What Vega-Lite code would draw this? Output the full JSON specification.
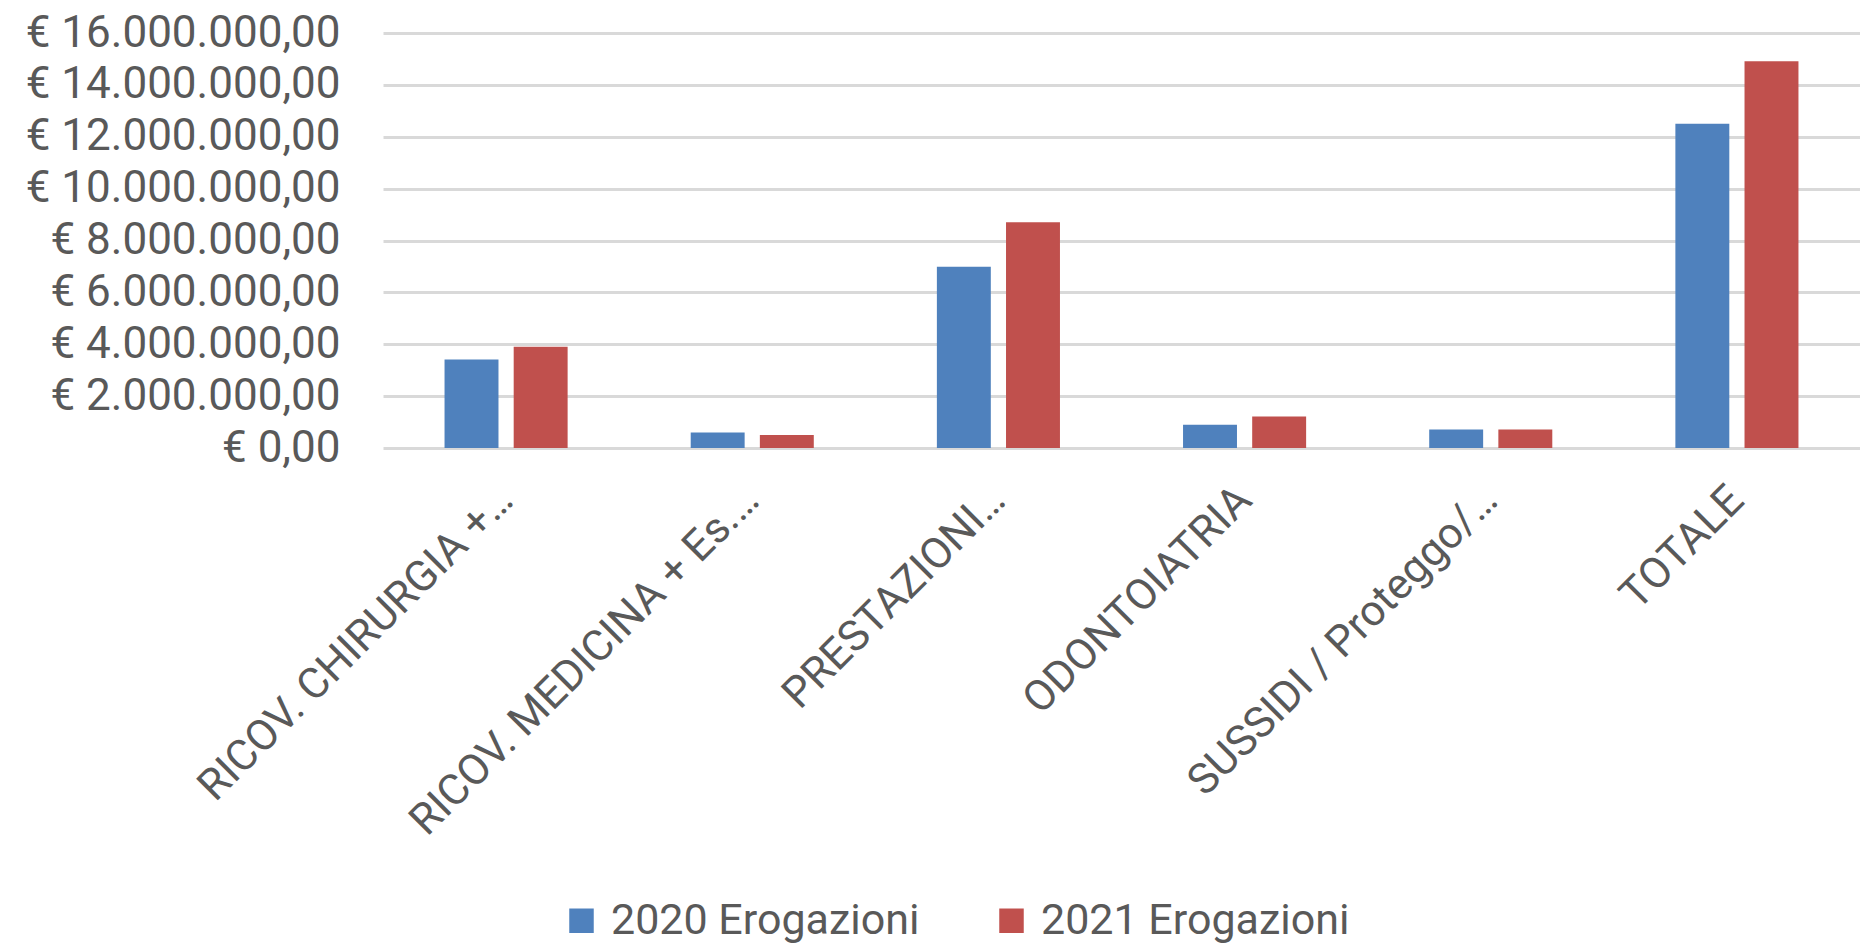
{
  "$schema": "https://vega.github.io/schema/vega-lite/v6.json",
  "autosize": "none",
  "width": 1477,
  "height": 415,
  "padding": {"left": 383, "top": 33, "right": 0, "bottom": 495},
  "background": "white",
  "data": {
    "values": [
      {"cat": "RICOV. CHIRURGIA  +…", "serie": "2020 Erogazioni", "valore": 3410000},
      {"cat": "RICOV. CHIRURGIA  +…", "serie": "2021 Erogazioni", "valore": 3900000},
      {"cat": "RICOV. MEDICINA + Es.…", "serie": "2020 Erogazioni", "valore": 600000},
      {"cat": "RICOV. MEDICINA + Es.…", "serie": "2021 Erogazioni", "valore": 500000},
      {"cat": "PRESTAZIONI…", "serie": "2020 Erogazioni", "valore": 6990000},
      {"cat": "PRESTAZIONI…", "serie": "2021 Erogazioni", "valore": 8700000},
      {"cat": "ODONTOIATRIA", "serie": "2020 Erogazioni", "valore": 900000},
      {"cat": "ODONTOIATRIA", "serie": "2021 Erogazioni", "valore": 1210000},
      {"cat": "SUSSIDI / Proteggo/…", "serie": "2020 Erogazioni", "valore": 710000},
      {"cat": "SUSSIDI / Proteggo/…", "serie": "2021 Erogazioni", "valore": 710000},
      {"cat": "TOTALE", "serie": "2020 Erogazioni", "valore": 12500000},
      {"cat": "TOTALE", "serie": "2021 Erogazioni", "valore": 14910000}
    ]
  },
  "mark": {"type": "bar"},
  "encoding": {
    "x": {
      "field": "cat",
      "type": "nominal",
      "sort": null,
      "title": null,
      "scale": {"paddingInner": 0.5, "paddingOuter": 0.25},
      "axis": {
        "labelAngle": -45,
        "labelAlign": "right",
        "labelBaseline": "middle",
        "labelPadding": 45,
        "labelFont": "Roboto",
        "labelFontSize": 43,
        "labelColor": "#595959",
        "labelLimit": 1000,
        "labelOverlap": false,
        "ticks": false,
        "domain": false,
        "grid": false
      }
    },
    "xOffset": {
      "field": "serie",
      "type": "nominal",
      "scale": {"paddingInner": 0.22, "paddingOuter": 0}
    },
    "y": {
      "field": "valore",
      "type": "quantitative",
      "title": null,
      "scale": {"domain": [0, 16000000]},
      "axis": {
        "values": [0, 2000000, 4000000, 6000000, 8000000, 10000000, 12000000, 14000000, 16000000],
        "labelExpr": "'€ ' + replace(replace(replace(format(datum.value, ',.2f'), regexp(',', 'g'), '_'), regexp('[.]', 'g'), ','), regexp('_', 'g'), '.')",
        "labelFont": "Roboto",
        "labelFontSize": 44,
        "labelColor": "#595959",
        "labelPadding": 43,
        "labelLimit": 1000,
        "labelOverlap": false,
        "ticks": false,
        "domain": false,
        "gridColor": "#D9D9D9",
        "gridWidth": 3,
        "zindex": 0
      }
    },
    "color": {
      "field": "serie",
      "type": "nominal",
      "title": null,
      "scale": {"domain": ["2020 Erogazioni", "2021 Erogazioni"], "range": ["#4F81BD", "#C0504D"]},
      "legend": {
        "orient": "none",
        "legendX": 177,
        "legendY": 866,
        "direction": "horizontal",
        "symbolType": "square",
        "symbolSize": 600,
        "symbolStrokeWidth": 0,
        "symbolOpacity": 1,
        "labelFont": "Roboto",
        "labelFontSize": 43,
        "labelColor": "#595959",
        "labelOffset": 8,
        "columnPadding": 70,
        "labelLimit": 1000
      }
    }
  },
  "config": {"view": {"stroke": null}}
}
